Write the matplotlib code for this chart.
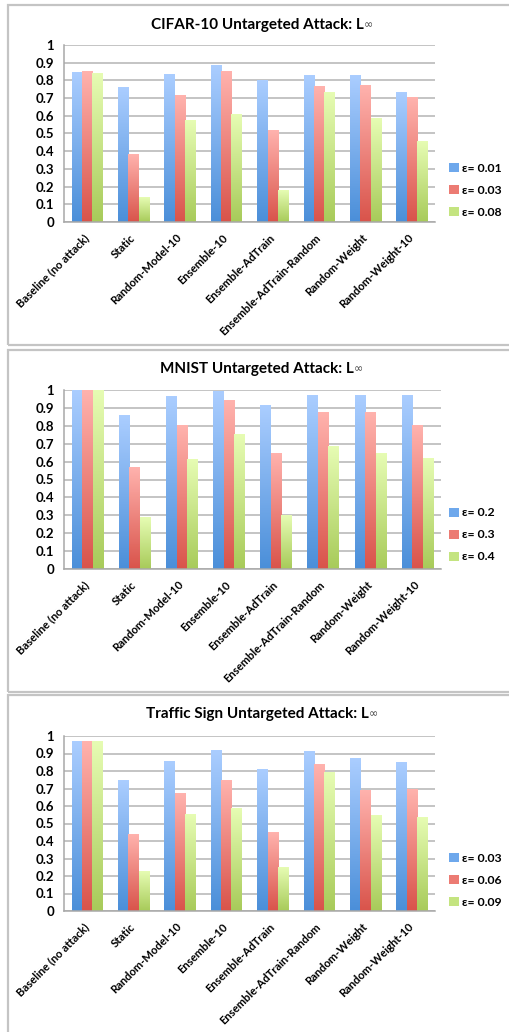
import matplotlib
matplotlib.use('Agg')
import matplotlib.pyplot as plt
import numpy as np
from matplotlib.patches import Rectangle, Patch
from matplotlib.colors import LinearSegmentedColormap

# data
categories = ['Baseline (no attack)', 'Static', 'Random-Model-10', 'Ensemble-10',
              'Ensemble-AdTrain', 'Ensemble-AdTrain-Random', 'Random-Weight',
              'Random-Weight-10']

cifar_titles = 'CIFAR-10 Untargeted Attack: L'
cifar_labels = ['\u03b5= 0.01', '\u03b5= 0.03', '\u03b5= 0.08']
cifar_e1 = [0.844, 0.759, 0.831, 0.882, 0.799, 0.825, 0.825, 0.729]
cifar_e2 = [0.850, 0.382, 0.712, 0.850, 0.515, 0.763, 0.774, 0.703]
cifar_e3 = [0.838, 0.137, 0.571, 0.605, 0.177, 0.729, 0.583, 0.455]

mnist_title = 'MNIST Untargeted Attack: L'
mnist_labels = ['\u03b5= 0.2', '\u03b5= 0.3', '\u03b5= 0.4']
mnist_e1 = [1.0, 0.860, 0.961, 0.989, 0.916, 0.972, 0.972, 0.972]
mnist_e2 = [1.0, 0.566, 0.804, 0.944, 0.648, 0.877, 0.877, 0.801]
mnist_e3 = [1.0, 0.285, 0.609, 0.749, 0.298, 0.682, 0.648, 0.616]

traffic_title = 'Traffic Sign Untargeted Attack: L'
traffic_labels = ['\u03b5= 0.03', '\u03b5= 0.06', '\u03b5= 0.09']
traffic_e1 = [0.971, 0.743, 0.857, 0.920, 0.811, 0.909, 0.869, 0.851]
traffic_e2 = [0.966, 0.440, 0.674, 0.743, 0.451, 0.840, 0.691, 0.697]
traffic_e3 = [0.966, 0.223, 0.549, 0.583, 0.246, 0.789, 0.543, 0.537]

yticks = [0, 0.1, 0.2, 0.3, 0.4, 0.5, 0.6, 0.7, 0.8, 0.9, 1]
ytick_labels = ['0', '0.1', '0.2', '0.3', '0.4', '0.5', '0.6', '0.7', '0.8', '0.9', '1']

# (bottom colour, top colour) of each gradient
grad_colors = [('#4b8fd9', '#aacdff'), ('#d9544b', '#ffb2ad'), ('#a8cb5a', '#e6fcb3')]
mid_colors = ['#6ea8ec', '#ec7b73', '#c4e480']

plt.rcParams['font.family'] = ['Lato', 'DejaVu Sans']
plt.rcParams['font.weight'] = 'bold'

W, H = 510, 1032
fig = plt.figure(figsize=(W / 100, H / 100), dpi=100)
fig.patch.set_facecolor('white')


def fx(px):
    return px / W


def fy(py):
    return 1 - py / H


def panel(box, ax_box, title, title_y, series, labels, leg_y):
    # outer frame of the panel
    x0, y0, x1, y1 = box
    fig.patches.append(Rectangle((fx(x0), fy(y1)), fx(x1 - x0), (y1 - y0) / H,
                                 transform=fig.transFigure, fill=False,
                                 edgecolor='#c4c4c4', lw=1.6, zorder=0))
    l, t, r, b = ax_box
    ax = fig.add_axes([fx(l), fy(b), fx(r - l), (b - t) / H])
    ax.set_facecolor('none')

    x = np.arange(len(categories))
    w = 0.223
    handles = []
    for k, vals in enumerate(series):
        bars = ax.bar(x + (k - 1) * w, vals, width=w, color='none',
                      edgecolor='none', zorder=2)
        cmap = LinearSegmentedColormap.from_list('g%d' % k, grad_colors[k])
        grad = np.linspace(0, 1, 64).reshape(-1, 1)
        for p in bars:
            bx, by = p.get_x(), p.get_y()
            ax.imshow(grad, cmap=cmap, origin='lower', aspect='auto',
                      extent=[bx, bx + p.get_width(), by, by + p.get_height()],
                      zorder=2, interpolation='bilinear')
        handles.append(Patch(facecolor=mid_colors[k], edgecolor='none'))

    ax.set_xlim(-0.5, len(categories) - 0.5)
    ax.set_ylim(0, 1)
    ax.set_yticks(yticks)
    ax.set_yticklabels(ytick_labels, fontsize=9.5, fontweight='bold')
    ax.yaxis.grid(True, color='#b4b4b4', lw=1.1, zorder=0)
    ax.set_axisbelow(True)
    ax.tick_params(axis='y', length=0, pad=7)
    ax.tick_params(axis='x', length=0, pad=10)
    ax.set_xticks(x)
    ax.set_xticklabels(categories, rotation=45, ha='right', va='center',
                       rotation_mode='anchor', fontsize=8.1, fontweight='bold')
    for s in ['top', 'right']:
        ax.spines[s].set_visible(False)
    for s in ['left', 'bottom']:
        ax.spines[s].set_color('#a8a8a8')
        ax.spines[s].set_linewidth(1.1)

    ax.legend(handles, labels, loc='center left', frameon=False,
              bbox_to_anchor=(fx(449), fy(leg_y)), bbox_transform=fig.transFigure,
              prop={'size': 8.8, 'weight': 'bold'}, handlelength=0.8,
              handleheight=0.8, handletextpad=0.25, labelspacing=0.9,
              borderpad=0, borderaxespad=0)

    tt = fig.text(fx(257), fy(title_y), title, ha='center', va='center',
                  fontsize=11, fontweight='bold')
    ax.annotate('\u221e', xy=(1, 0.12), xycoords=tt, ha='left', va='bottom',
                fontsize=8, fontweight='normal', color='#444444',
                family=['DejaVu Sans'])
    return ax


panel((8, 5, 520, 345), (64, 45, 435, 222), cifar_titles, 25,
      [cifar_e1, cifar_e2, cifar_e3], cifar_labels, 190)
panel((8, 350, 520, 692), (64, 390, 441, 569), mnist_title, 369,
      [mnist_e1, mnist_e2, mnist_e3], mnist_labels, 535)
panel((8, 695, 520, 1045), (64, 736, 435, 911), traffic_title, 714,
      [traffic_e1, traffic_e2, traffic_e3], traffic_labels, 880)

fig.savefig('out.png', dpi=100)
